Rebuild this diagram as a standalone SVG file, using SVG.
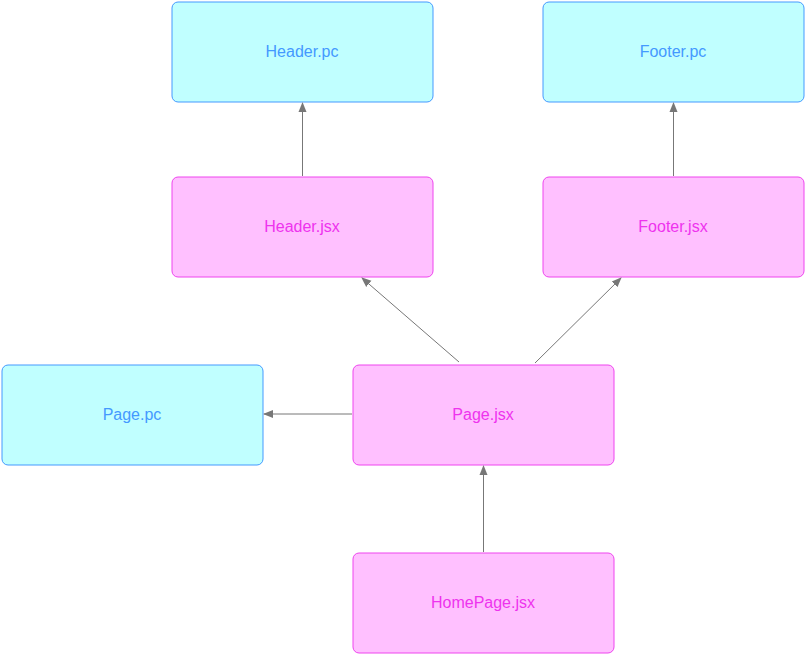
<svg xmlns="http://www.w3.org/2000/svg" width="805" height="654" viewBox="0 0 805 654">
<style>
.pc rect{fill:#C0FFFF;stroke:#4499FF;stroke-width:1}
.pc text{fill:#4499FF}
.jsx rect{fill:#FFC0FF;stroke:#EE44EE;stroke-width:1}
.jsx text{fill:#EE33EE}
text{font-family:"Liberation Sans",Arial,sans-serif;font-size:16px;text-anchor:middle;dominant-baseline:central}
.edges line{stroke:#777777;stroke-width:1;fill:none;marker-end:url(#arr)}
</style>
<defs>
<marker id="arr" viewBox="0 0 10 10" refX="9" refY="5" markerWidth="10" markerHeight="10" markerUnits="userSpaceOnUse" orient="auto">
<path d="M0,1 L10,5 L0,9 z" fill="#777777"/>
</marker>
</defs>
<g id="header-pc" class="pc"><rect x="172" y="2" width="261" height="100" rx="6"/><text x="302" y="51">Header.pc</text></g>
<g id="footer-pc" class="pc"><rect x="543" y="2" width="261" height="100" rx="6"/><text x="673" y="51">Footer.pc</text></g>
<g id="header-jsx" class="jsx"><rect x="172" y="177" width="261" height="100" rx="6"/><text x="302" y="226">Header.jsx</text></g>
<g id="footer-jsx" class="jsx"><rect x="543" y="177" width="261" height="100" rx="6"/><text x="673" y="226">Footer.jsx</text></g>
<g id="page-pc" class="pc"><rect x="2" y="365" width="261" height="100" rx="6"/><text x="132" y="414">Page.pc</text></g>
<g id="page-jsx" class="jsx"><rect x="353" y="365" width="261" height="100" rx="6"/><text x="483" y="414">Page.jsx</text></g>
<g id="homepage-jsx" class="jsx"><rect x="353" y="553" width="261" height="100" rx="6"/><text x="483" y="602">HomePage.jsx</text></g>
<g class="edges">
<line x1="302.5" y1="176" x2="302.5" y2="103"/>
<line x1="673.5" y1="176" x2="673.5" y2="103"/>
<line x1="459" y1="362" x2="362" y2="278"/>
<line x1="535" y1="363" x2="621" y2="278"/>
<line x1="352" y1="414" x2="264" y2="414"/>
<line x1="483.5" y1="552" x2="483.5" y2="466"/>
</g>
</svg>
